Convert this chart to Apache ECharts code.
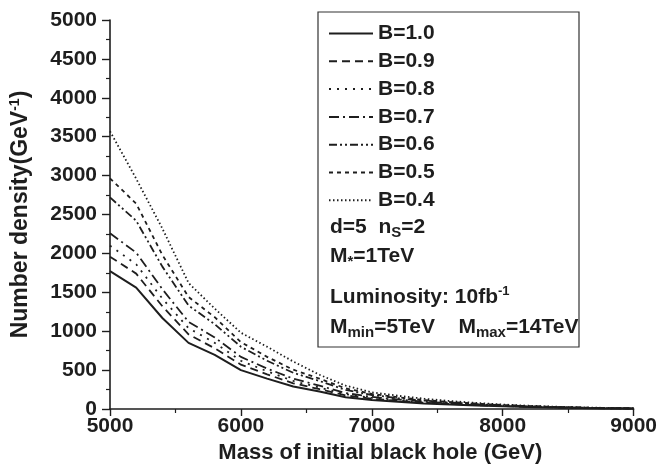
<!DOCTYPE html>
<html>
<head>
<meta charset="utf-8">
<script src="https://cdn.jsdelivr.net/npm/echarts@6/dist/echarts.min.js"></script>
<style>
html,body{margin:0;padding:0;background:#fff;}
#c{width:660px;height:470px;}
</style>
</head>
<body>
<div id="c"></div>
<script>
const masses = [5000,5200,5400,5600,5800,6000,6200,6400,6600,6800,7000,7200,7400,7600,7800,8000,8200,8400,8600,8800,9000];
const b10 = [1771,1560,1170,850,695,500,390,290,225,150,115,92,72,58,45,34,25,18,12,8,5];
const b09 = [1957,1740,1320,960,780,570,445,330,255,175,132,105,82,65,50,38,28,20,14,9,6];
const b08 = [2100,1860,1420,1040,850,620,485,360,275,190,142,112,88,70,54,41,30,22,15,10,6];
const b07 = [2258,2010,1540,1120,920,670,520,390,300,205,155,122,95,75,58,44,32,23,16,11,7];
const b06 = [2720,2420,1830,1330,1090,800,620,465,360,245,180,140,108,84,64,48,35,25,17,12,8];
const b05 = [2965,2640,1980,1440,1180,860,670,505,390,265,195,150,115,89,68,51,37,27,18,12,8];
const b04 = [3570,2960,2320,1620,1290,980,800,610,440,300,215,170,132,102,78,58,42,30,21,14,9];
const seriesNames = ['B=1.0','B=0.9','B=0.8','B=0.7','B=0.6','B=0.5','B=0.4'];
const seriesValues = [b10,b09,b08,b07,b06,b05,b04];
const dashTypes = ['solid',[8,5],[2,6],[10,4,2,4],[8,3,2,3,2,3],[4,4],[1.5,2.5]];
const lineWidths = [2,1.8,1.8,1.8,1.8,1.8,1.8];

const FONT = 'Liberation Sans, Arial, sans-serif';
const INK = '#1e1e1e';

const chart = echarts.init(document.getElementById('c'), null, {renderer:'canvas'});

const series = seriesNames.map((n,i)=>({
  name:n, type:'line', symbol:'none', showSymbol:false,
  data: masses.map((m,j)=>[m, seriesValues[i][j]]),
  lineStyle:{color:INK, width:lineWidths[i], type:dashTypes[i]},
  itemStyle:{color:INK},
  silent:true, animation:false
}));

const txtBase = {fill:INK, font:'bold 21px ' + FONT, textVerticalAlign:'middle', textAlign:'left'};
const rich = {
  sub:{fontSize:15, fontWeight:'bold', fontFamily:FONT, color:INK, verticalAlign:'bottom', padding:[11,0,0,0]},
  sup:{fontSize:13, fontWeight:'bold', fontFamily:FONT, color:INK, verticalAlign:'top', padding:[0,0,11,0]},
  n:{fontSize:21, fontWeight:'bold', fontFamily:FONT, color:INK}
};
const richY = {
  sup:{fontSize:14, fontWeight:'bold', fontFamily:FONT, color:INK, verticalAlign:'top', padding:[0,0,12,0]},
  n:{fontSize:23, fontWeight:'bold', fontFamily:FONT, color:INK}
};

chart.setOption({
  animation:false,
  backgroundColor:'#fff',
  grid:{left:110, right:25, top:20, bottom:61},
  xAxis:{
    type:'value', min:5000, max:9000, interval:1000,
    name:'Mass of initial black hole (GeV)', nameLocation:'middle', nameGap:33,
    nameTextStyle:{fontSize:22, fontWeight:'bold', fontFamily:FONT, color:INK, padding:[0,0,0,17]},
    axisLine:{lineStyle:{color:INK, width:1.6}},
    axisTick:{inside:false, length:7, lineStyle:{color:INK, width:1.4}},
    minorTick:{show:true, splitNumber:2, length:4, lineStyle:{color:INK, width:1.2}},
    axisLabel:{fontSize:21, fontWeight:'bold', fontFamily:FONT, color:INK, margin:7, formatter:v=>String(v)},
    splitLine:{show:false}
  },
  yAxis:{
    type:'value', min:0, max:5000, interval:500,
    name:'{n|Number density(GeV}{sup|-1}{n|)}', nameLocation:'middle', nameGap:76, nameRotate:90,
    nameTextStyle:{fontSize:23, fontWeight:'bold', fontFamily:FONT, color:INK, rich:richY},
    axisLine:{show:true, lineStyle:{color:INK, width:1.6}},
    axisTick:{show:true, inside:false, length:8, lineStyle:{color:INK, width:1.4}},
    minorTick:{show:true, splitNumber:2, length:4, lineStyle:{color:INK, width:1.2}},
    axisLabel:{fontSize:21, fontWeight:'bold', fontFamily:FONT, color:INK, margin:13, formatter:v=>String(v)},
    splitLine:{show:false}
  },
  legend:{
    orient:'vertical', left:323, top:18, itemWidth:44, itemHeight:20, itemGap:6.8,
    selectedMode:false,
    itemStyle:{opacity:0},
    textStyle:{fontSize:21, fontWeight:'bold', fontFamily:FONT, color:INK, lineHeight:20},
    data:seriesNames
  },
  graphic:[
    {type:'rect', shape:{x:318, y:12, width:261, height:335}, style:{fill:null, stroke:'#333', lineWidth:1.2}, z:1},
    {type:'text', x:330, y:227, style:Object.assign({}, txtBase, {text:'{n|d=5  n}{sub|S}{n|=2}', rich:rich})},
    {type:'text', x:330, y:256, style:Object.assign({}, txtBase, {text:'{n|M}{sub|*}{n|=1TeV}', rich:rich})},
    {type:'text', x:330, y:297, style:Object.assign({}, txtBase, {text:'{n|Luminosity: 10fb}{sup|-1}', rich:rich})},
    {type:'text', x:330, y:327, style:Object.assign({}, txtBase, {text:'{n|M}{sub|min}{n|=5TeV    M}{sub|max}{n|=14TeV}', rich:rich})}
  ],
  series:series
});
</script>
</body>
</html>
